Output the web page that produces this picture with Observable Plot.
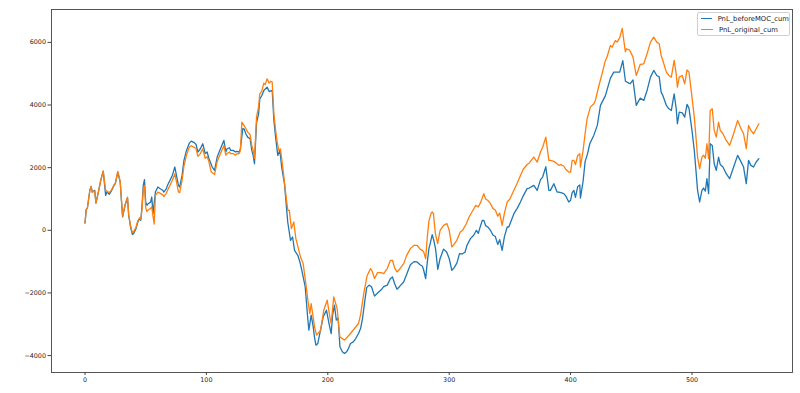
<!DOCTYPE html>
<html><head><meta charset="utf-8">
<script src="https://cdn.jsdelivr.net/npm/d3@7"></script>
<script src="https://cdn.jsdelivr.net/npm/@observablehq/plot@0.6"></script>
<style>
body{margin:0;background:#fff;}
#wrap{position:relative;width:800px;height:393px;}
.legend{position:absolute;left:697px;top:12px;width:93px;height:24px;border:1px solid #d0d0d0;border-radius:2px;background:#fff;font-family:"DejaVu Sans",sans-serif;font-size:6.8px;color:#222;box-sizing:border-box;padding:0 0 0 3px;}
.row{display:flex;align-items:center;height:11px;}
.sw{width:12px;height:1.4px;margin-right:6px;}
</style></head><body><div id="wrap"></div>
<script>
const seriesNames = ["PnL_beforeMOC_cum", "PnL_original_cum"];
const seriesColors = ["#1f77b4", "#ff7f0e"];
const xTicks = [0, 100, 200, 300, 400, 500];
const yTicks = [-4000, -2000, 0, 2000, 4000, 6000];

const pnlBeforeMOC = [
[0,234],[1,660],[2,720],[4,1280],[5,1400],[6,1220],[8,1276],[9,870],[11,1220],[13,1600],
[15,1890],[17,1110],[18,1220],[20,1150],[22,1276],[24,1440],[25,1490],[27,1860],[29,1540],[30,960],
[31,430],[33,800],[35,1040],[36,480],[37.5,106],[39,-128],[40,-106],[42,53],[43.5,266],[45,372],
[46,320],[47,797],[48,1435],[49,1616],[50,904],[51,797],[52,850],[54,900],[55,1063],[56,530],
[58,1222],[60,1382],[62,1329],[64,1280],[65,1222],[67,1330],[68,1440],[70,1595],[72,1760],[74,2020],
[75.6,1700],[77,1435],[78,1380],[80,1760],[81.5,2232],[83.6,2551],[86,2785],[87.5,2849],[90,2800],[91.5,2740],
[93,2498],[95,2604],[97,2764],[99,2450],[100.6,2500],[102,2300],[104.8,2020],[106.7,1914],[108.9,2340],[111.6,2604],
[114.4,2870],[116,2498],[117,2604],[119,2636],[120,2551],[122,2551],[124,2500],[125,2519],[127,2500],[128,2600],
[130,3250],[131,3242],[132.5,3083],[134,2976],[136,2923],[137.4,2551],[138.5,2392],[139.6,2126],[141.3,3430],[143,3720],
[144,4199],[145.7,4305],[147.3,4465],[150,4571],[151.7,4430],[154.2,4465],[155.6,3508],[157,2976],[158.8,2392],[160.5,2551],
[162,2020],[164.3,1488],[167,266],[169.3,-319],[171,-213],[172.6,-638],[175.3,-797],[177,-1010],[178.6,-1276],[181.4,-1807],
[182.5,-2339],[183.5,-2817],[184.4,-3189],[186.3,-2711],[188,-3083],[189,-3402],[190.2,-3667],[191.8,-3614],[193.4,-3295],[195,-3000],
[196.2,-2764],[198.9,-2551],[201,-2976],[202.8,-3295],[204,-2700],[205.5,-2392],[207,-2870],[208.5,-2800],[210,-3720],[212,-3880],
[213.8,-3933],[215.5,-3880],[217,-3774],[218.7,-3614],[221,-3561],[223,-3455],[225.3,-3295],[227,-3136],[228.6,-2817],[230.2,-2339],
[232,-1830],[234,-1750],[236,-1800],[238.5,-2100],[241,-2000],[244,-1900],[246,-1800],[249,-1750],[251.6,-1540],[253.3,-1490],
[255,-1700],[257,-1880],[259,-1800],[262.5,-1650],[265,-1400],[268,-1100],[271,-1000],[273.5,-1010],[276,-1100],[278,-1150],
[279,-1276],[280.6,-1541],[282,-1000],[283.3,-585],[284.5,-400],[286,-140],[287.5,-350],[288.8,-600],[290.6,-1250],[292.5,-900],
[295.4,-600],[298,-700],[300,-900],[302.2,-1276],[304,-1200],[306.3,-1050],[308.5,-744],[311,-750],[313,-700],[314.7,-478],
[317.5,-266],[320.2,-159],[322.4,0],[324,-100],[325.1,53],[327.3,319],[328.5,319],[330,150],[332,100],[334,0],
[336,-150],[338,-200],[340,-450],[341.6,-300],[343.6,-638],[345.5,-200],[347.8,106],[349.1,106],[351,300],[353.3,532],
[356,700],[358.7,904],[361,1100],[364.2,1330],[366,1350],[369.7,1435],[372.5,1276],[375.2,1620],[377,1700],[379.6,2030],
[382.1,1276],[383.4,1276],[386.2,1488],[388.9,1222],[390.3,1222],[392,1200],[394.4,1170],[396,1100],[398.5,904],[400,957],
[401.3,1200],[402.7,1276],[404,1050],[405.9,1400],[407.6,1450],[408.1,1030],[410.3,1570],[412,2200],[414,2450],[415.8,2764],
[419.1,3030],[422,3350],[424.6,3990],[428.7,4300],[432.8,4860],[435.6,5050],[438,5050],[440.5,5050],[443,5420],[445.2,4760],
[448,4700],[449.2,4680],[451.4,4800],[454.1,3987],[457.4,4220],[460.3,4147],[463,4465],[465.8,4890],[468.5,5104],[471,4943],
[473,4900],[474.6,4412],[476,4306],[478.9,3987],[481,3880],[483,3827],[485.3,4359],[487,3880],[488,3402],[489.5,3774],
[492,3750],[494,3614],[495.9,4020],[497.5,3900],[500,3190],[501.9,2551],[503.5,1807],[504.6,1276],[506.3,904],[508.2,1276],
[509.5,1350],[511,1250],[512.3,1648],[513.7,1170],[515,2764],[516.7,2711],[518.3,2126],[520,1913],[521.9,2339],[523.3,2100],
[525.5,2020],[528.2,1807],[531,1648],[534.3,2020],[537.6,2392],[539.8,2233],[542.5,2020],[544.7,1488],[546.6,2233],[548.5,2073],
[550.7,2020],[552.9,2180],[555.1,2286]
];

const pnlOriginal = [
[0,234],[1,660],[2,720],[4,1280],[5,1400],[6,1220],[8,1250],[9,870],[11,1220],[13,1600],
[15,1890],[17,1276],[18,1250],[20,1200],[22,1300],[24,1460],[25,1500],[27,1880],[29,1560],[30,980],
[31,450],[33,820],[35,1060],[36,500],[37.5,150],[39,-74],[40,-50],[42,100],[43.5,300],[45,400],
[46,350],[47,700],[48,1300],[49,1435],[50,723],[51,600],[52,650],[54,700],[55,750],[56,450],
[57,200],[58,1116],[60,1220],[62,1180],[64,1130],[65,1080],[67,1180],[68,1280],[70,1435],[72,1600],
[74,1807],[75.6,1500],[77,1222],[78,1200],[80,1600],[81.5,2050],[83.6,2400],[86,2658],[87.5,2700],[90,2650],
[91.5,2600],[93,2360],[95,2450],[97,2600],[99,2300],[100.6,2350],[102,2200],[104,1860],[106.7,1780],[108.9,2200],
[111.6,2450],[114.4,2700],[116,2400],[117,2450],[119,2500],[120,2450],[122,2450],[124,2400],[125.3,2445],[127,2450],
[128,2550],[129.2,3455],[131,3350],[132.5,3250],[134,3136],[136,3050],[137.4,2700],[138.5,2550],[139.6,2300],[141.3,3620],
[143,3950],[144,4358],[145.7,4450],[147.3,4699],[148.5,4650],[150,4837],[151.7,4700],[153,4760],[154.2,4730],[155.6,3720],
[157,3200],[158.3,2817],[159.7,2551],[161,2600],[163.2,1913],[166,957],[167.1,638],[168.3,638],[170,53],[172,266],
[173.7,-266],[177.5,-850],[179.7,-1063],[181.9,-1700],[183.6,-2232],[185.2,-2658],[186.3,-2339],[189.1,-3083],[190.7,-3349],[194,-3200],
[196.7,-2551],[199.5,-2232],[201.7,-2764],[202.8,-2976],[204.9,-2126],[207.7,-2498],[209.9,-3402],[213.8,-3508],[218.7,-3295],[225.3,-2976],
[227,-2700],[229.7,-2000],[232.4,-1450],[235.2,-1222],[236.5,-1300],[238.5,-1541],[241,-1350],[244,-1350],[246,-1382],[249,-1222],
[251.6,-957],[253.3,-957],[255,-1200],[257,-1329],[259,-1250],[262.5,-1063],[265,-800],[268,-585],[271,-480],[273.5,-478],
[276,-600],[278,-650],[279,-691],[280.6,-904],[282,-200],[283.3,300],[285,531],[286,585],[287,531],[288.6,-100],
[290.5,-425],[292.5,0],[295.4,159],[298.1,213],[300,0],[302.2,-531],[304,-450],[306.3,-319],[309.1,-53],[311,0],
[314,200],[316.4,425],[319,600],[321.9,797],[324,750],[326,900],[328.5,1170],[330,1000],[332,950],[334,850],
[336,700],[338,650],[340,450],[341.6,550],[343.6,159],[345.5,550],[347.8,904],[350,1000],[353.3,1276],[356,1500],
[358.7,1750],[361,1950],[364.2,2100],[366,2150],[369.7,2339],[372.5,2180],[375.2,2498],[377,2650],[379.6,2976],[382.1,2233],
[383.4,2233],[386.2,2200],[388.9,2126],[390.3,2073],[392,2100],[394.4,2045],[396,1950],[398.5,1860],[400,1860],[401.3,2233],
[402.7,2233],[404,2100],[405.9,2392],[407.6,2445],[408.1,2020],[410.3,2551],[412,3100],[413.6,3560],[416.3,3933],[419.1,4040],
[420.4,4147],[423.2,4600],[425.9,4996],[428.7,5423],[430,5530],[432.8,5900],[434.2,5849],[436.9,6060],[438.3,6008],[440.5,6150],
[442.5,6450],[445.1,5700],[446,5796],[448.7,5750],[451.4,5530],[454.1,4943],[457.4,5300],[460.3,5316],[463,5636],[465.8,6008],
[468.5,6167],[471,6008],[473,5955],[474.6,5583],[476,5423],[478.9,5050],[481,4943],[483,4890],[485.3,5423],[487,4996],
[488,4571],[489.5,4890],[492,4943],[494,4677],[495.9,5125],[497.5,5050],[500,4253],[501.9,3614],[503.5,2870],[504.6,2339],
[506.3,1967],[508.2,2339],[509.5,2400],[511,2300],[512.3,2764],[513.7,2286],[515,3828],[516.7,3880],[518.3,3190],[520,2976],
[521.9,3456],[523.3,3190],[525.5,3083],[528.2,2870],[531,2711],[534.3,3083],[537.6,3508],[539.8,3295],[542.5,3083],[544.7,2604],
[546.6,3349],[548.5,3190],[550.7,3083],[552.9,3242],[555.1,3402]
];

const fmt = d => d < 0 ? "\u2212" + Math.abs(d) : String(d);

const chart = Plot.plot({
  width: 800, height: 393,
  marginLeft: 51, marginRight: 8, marginTop: 9, marginBottom: 21,
  style: {fontFamily: "DejaVu Sans, sans-serif", fontSize: "6.4px", color: "#262626", background: "#fff"},
  x: {domain: [-27.6, 582.8]},
  y: {domain: [-4540, 7050]},
  marks: [
    Plot.axisX(xTicks, {tickSize: 3, tickPadding: 2, tickFormat: fmt, label: null, stroke: "#444", fill: "#262626"}),
    Plot.axisY(yTicks, {tickSize: 3.5, tickPadding: 2, tickFormat: fmt, label: null, stroke: "#444", fill: "#262626"}),
    Plot.line(pnlBeforeMOC, {x: d => d[0], y: d => d[1], stroke: seriesColors[0], strokeWidth: 1.3}),
    Plot.line(pnlOriginal, {x: d => d[0], y: d => d[1], stroke: seriesColors[1], strokeWidth: 1.3}),
    Plot.frame({stroke: "#444", strokeWidth: 0.9})
  ]
});
const wrap = document.getElementById("wrap");
wrap.appendChild(chart);
const leg = document.createElement("div");
leg.className = "legend";
seriesNames.forEach((n, i) => {
  const r = document.createElement("div");
  r.className = "row";
  const sw = document.createElement("span");
  sw.className = "sw";
  sw.style.background = seriesColors[i];
  const t = document.createElement("span");
  t.textContent = n;
  r.appendChild(sw); r.appendChild(t);
  leg.appendChild(r);
});
wrap.appendChild(leg);
</script></body></html>
